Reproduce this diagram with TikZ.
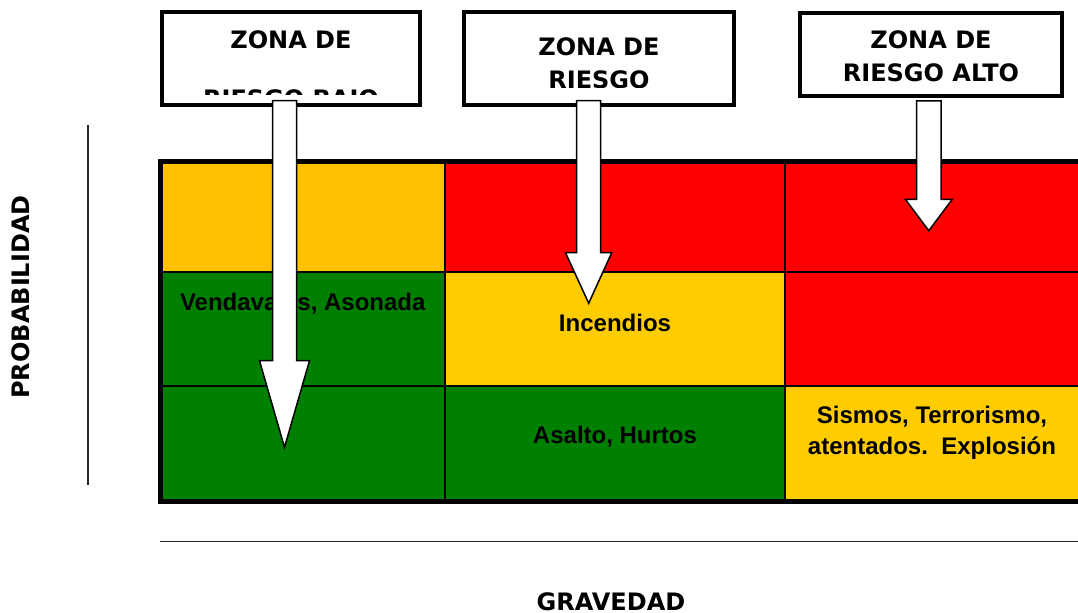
\documentclass[tikz,border=0pt]{standalone}
\usepackage{fontspec}
\setmainfont{Liberation Sans}
\newfontfamily\verdanafont{DejaVu Sans}
\usetikzlibrary{positioning}
\definecolor{zoneorange}{RGB}{255, 192, 0}
\definecolor{zoneyellow}{RGB}{255, 204, 0}
\definecolor{zonered}{RGB}{255, 0, 0}
\definecolor{zonegreen}{RGB}{0, 128, 0}

\begin{document}
\begin{tikzpicture}[
  x=0.5pt, y=-0.5pt,
  cell/.style={
    draw=black,
    line width=1pt,
    inner sep=0pt,
    outer sep=0pt
  },
  zonebox/.style={
    draw=black,
    line width=1.7pt,
    fill=white,
    inner sep=0pt,
    outer sep=0pt,
    anchor=north west
  },
  zonetext/.style={
    font=\verdanafont\bfseries\fontsize{12}{16.5}\selectfont,
    align=center,
    inner sep=0pt,
    anchor=north
  },
  celltext/.style={
    font=\bfseries\fontsize{12}{15.5}\selectfont,
    align=center,
    inner sep=0pt
  },
  axislabel/.style={
    font=\verdanafont\bfseries\fontsize{12}{14}\selectfont,
    inner sep=0pt
  },
  blockarrow/.style={
    draw=black,
    fill=white,
    line width=0.75pt,
    line join=miter
  }
]
  \useasboundingbox (0,0) rectangle (1078,613);

  % Risk matrix cells
  \node[cell, fill=zoneorange, minimum width=142.25pt, minimum height=55.5pt, anchor=north west] (c11) at (160.5,161.5) {};
  \node[cell, fill=zonered, minimum width=170pt, minimum height=55.5pt, right=0pt of c11] (c12) {};
  \node[cell, fill=zonered, minimum width=147pt, minimum height=55.5pt, right=0pt of c12] (c13) {};

  \node[cell, fill=zonegreen, minimum width=142.25pt, minimum height=56.75pt, below=0pt of c11] (c21) {};
  \node[cell, fill=zoneyellow, minimum width=170pt, minimum height=56.75pt, right=0pt of c21] (c22) {};
  \node[cell, fill=zonered, minimum width=147pt, minimum height=56.75pt, right=0pt of c22] (c23) {};

  \node[cell, fill=zonegreen, minimum width=142.25pt, minimum height=58pt, below=0pt of c21] (c31) {};
  \node[cell, fill=zonegreen, minimum width=170pt, minimum height=58pt, right=0pt of c31] (c32) {};
  \node[cell, fill=zoneyellow, minimum width=147pt, minimum height=58pt, right=0pt of c32] (c33) {};

  \draw[line width=2.5pt, line join=miter] (c13.north east) -- (c11.north west) -- (c31.south west) -- (c33.south east);

  % Cell texts
  \node[celltext] (t21) at ([yshift=13pt]c21.center) {Vendavales, Asonada};
  \node[celltext] (t22) at ([yshift=3pt]c22.center) {Incendios};
  \node[celltext] (t32) at ([yshift=3.5pt]c32.center) {Asalto, Hurtos};
  \node[celltext] (t33) at ([yshift=5.75pt]c33.center) {Sismos, Terrorismo,\\atentados.\ \ Explosión};

  % Zone boxes
  \node[zonebox, minimum width=129pt, minimum height=46.5pt] (z1) at (162,12) {};
  \node[zonebox, minimum width=135pt, minimum height=46.5pt] (z2) at (464,12) {};
  \node[zonebox, minimum width=131pt, minimum height=41.5pt] (z3) at (800,13) {};

  \begin{scope}
    \clip ([yshift=5pt]z1.south west) rectangle (z1.north east);
    \node[zonetext] (l1) at ([yshift=-9.25pt]z1.north) {ZONA DE\\[13pt]RIESGO BAJO};
  \end{scope}
  \begin{scope}
    \clip ([yshift=8.75pt]z2.south west) rectangle (z2.north east);
    \node[zonetext] (l2) at ([yshift=-12.6pt]z2.north) {ZONA DE\\RIESGO};
  \end{scope}
  \node[zonetext] (l3) at ([yshift=-8.75pt]z3.north) {ZONA DE\\RIESGO ALTO};

  % Block arrows
  \draw[blockarrow] (272.5,100.7) -- (296.5,100.7) -- (296.5,360.7) -- (309.5,360.7) -- (284.5,447.3) -- (259.5,360.7) -- (272.5,360.7) -- cycle;
  \draw[blockarrow] (576.7,100.7) -- (600.7,100.7) -- (600.7,252.7) -- (611.7,252.7) -- (588.7,303.3) -- (565.5,252.7) -- (576.7,252.7) -- cycle;
  \draw[blockarrow] (916.7,101) -- (941,101) -- (941,199.3) -- (952.3,199.3) -- (928.8,230.7) -- (905.3,199.3) -- (916.7,199.3) -- cycle;

  % Axes
  \draw[line width=0.75pt, draw=black!85] (88,125) -- (88,485);
  \draw[line width=0.9pt, draw=black!85] (160,541.5) -- (1078,541.5);
  \node[axislabel, rotate=90] (prob) at (20.7,297) {PROBABILIDAD};
  \node[axislabel] (grav) at (611,601.5) {GRAVEDAD};

\end{tikzpicture}
\end{document}
